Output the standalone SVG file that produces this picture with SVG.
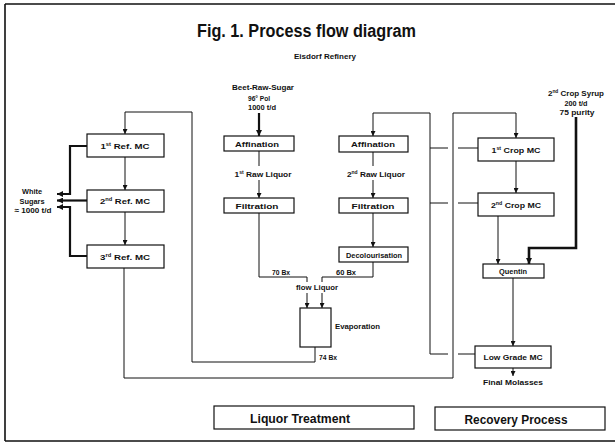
<svg xmlns="http://www.w3.org/2000/svg" width="615" height="445" viewBox="0 0 615 445">
<style>
.b{fill:#fff;stroke:#111;stroke-width:1.2}
.c{fill:none;stroke:#111;stroke-width:1}
.k{fill:none;stroke:#111;stroke-width:2.2}
.f{fill:none;stroke:#111;stroke-width:1.6}
text{font-family:"Liberation Sans",Arial,sans-serif;font-weight:bold;fill:#111}
.t{font-size:7.5px;text-anchor:middle}
.s{font-size:7.5px}
.h{font-size:18px;text-anchor:middle}
.L{font-size:13px;text-anchor:middle}
.sup{font-size:4.5px}
</style>
<defs>
<marker id="ah" viewBox="0 0 6 6" refX="6" refY="3" markerWidth="5" markerHeight="5" orient="auto" markerUnits="userSpaceOnUse"><path d="M0,0 L6,3 L0,6 z" fill="#111"/></marker>
<marker id="ahk" viewBox="0 0 6 6" refX="6" refY="3" markerWidth="7" markerHeight="6" orient="auto" markerUnits="userSpaceOnUse"><path d="M0,0 L6,3 L0,6 z" fill="#111"/></marker>
</defs>

<g id="frame">
<path class="f" d="M5,4 H615 M5,4 V441 M5,441 H615"/>
</g>

<g id="titles">
<text class="h" x="306.5" y="37" textLength="219" lengthAdjust="spacingAndGlyphs">Fig. 1. Process flow diagram</text>
<text class="t" x="325" y="59" textLength="62" lengthAdjust="spacingAndGlyphs">Eisdorf Refinery</text>
</g>

<g id="connectors">
<path class="k" d="M259,113 V136" marker-end="url(#ahk)"/>
<path class="c" d="M259,151 V166 M259,180 V198" marker-end="url(#ah)"/>
<path class="c" d="M259,213 V277 H307 V282"/>
<path class="c" d="M307,293 V308" marker-end="url(#ah)"/>
<path class="c" d="M373,152 V166 M373,180 V198" marker-end="url(#ah)"/>
<path class="c" d="M373,213 V247" marker-end="url(#ah)"/>
<path class="c" d="M373,262 V277 H322 V282"/>
<path class="c" d="M322,293 V308" marker-end="url(#ah)"/>
<path class="c" d="M315,347 V362 H192 V112 H125 V134" marker-end="url(#ah)"/>
<path class="c" d="M125,157 V190" marker-end="url(#ah)"/>
<path class="c" d="M125,212 V245" marker-end="url(#ah)"/>
<path class="c" d="M124,268 V378 H453 V113 H516 V138" marker-end="url(#ah)"/>
<path class="c" d="M430,354 V113 H373 V136" marker-end="url(#ah)"/>
<path class="c" d="M430,148 H448 M458,148 H478 M430,203 H448 M458,203 H478 M430,354 H448 M458,354 H475"/>
<path class="c" d="M516,161 V193" marker-end="url(#ah)"/>
<path class="c" d="M498,216 V264" marker-end="url(#ah)"/>
<path class="k" d="M576,117 V248 H529 V264" marker-end="url(#ahk)" style="stroke-width:2.6"/>
<path class="c" d="M513,278 V346" marker-end="url(#ah)"/>
<path class="c" d="M513,368 V376" marker-end="url(#ah)"/>
<path class="k" d="M87,146 H70 V194 H57" marker-end="url(#ahk)"/>
<path class="k" d="M87,200.5 H57" marker-end="url(#ahk)"/>
<path class="k" d="M87,256 H70 V207 H57" marker-end="url(#ahk)"/>
</g>

<g id="ref1"><rect class="b" x="87" y="134" width="77" height="23"/>
<text class="t" x="125" y="148.5" textLength="49" lengthAdjust="spacingAndGlyphs">1<tspan class="sup" dy="-3">st</tspan><tspan dy="3"> Ref. MC</tspan></text></g>
<g id="ref2"><rect class="b" x="87" y="190" width="77" height="22"/>
<text class="t" x="125" y="204" textLength="50" lengthAdjust="spacingAndGlyphs">2<tspan class="sup" dy="-3">nd</tspan><tspan dy="3"> Ref. MC</tspan></text></g>
<g id="ref3"><rect class="b" x="87" y="245" width="77" height="23"/>
<text class="t" x="125" y="259.5" textLength="50" lengthAdjust="spacingAndGlyphs">3<tspan class="sup" dy="-3">rd</tspan><tspan dy="3"> Ref. MC</tspan></text></g>

<g id="white-sugars">
<text class="t" x="32" y="194" textLength="20" lengthAdjust="spacingAndGlyphs">White</text>
<text class="t" x="32" y="204" textLength="25" lengthAdjust="spacingAndGlyphs">Sugars</text>
<text class="t" x="33" y="213" textLength="37" lengthAdjust="spacingAndGlyphs">≈ 1000 t/d</text>
</g>

<g id="beet-raw-sugar">
<text class="t" x="263" y="89.5" textLength="62" lengthAdjust="spacingAndGlyphs">Beet-Raw-Sugar</text>
<text class="t" x="259" y="100.5" textLength="22" lengthAdjust="spacingAndGlyphs">96° Pol</text>
<text class="t" x="262" y="110" textLength="28" lengthAdjust="spacingAndGlyphs">1000 t/d</text>
</g>

<g id="affination1"><rect class="b" x="224" y="136" width="70" height="15"/>
<text class="t" x="257" y="146.5" textLength="44" lengthAdjust="spacingAndGlyphs">Affination</text></g>
<text class="t" x="263" y="176.5" textLength="57" lengthAdjust="spacingAndGlyphs">1<tspan class="sup" dy="-3">st</tspan><tspan dy="3"> Raw Liquor</tspan></text>
<g id="filtration1"><rect class="b" x="224" y="198" width="70" height="15"/>
<text class="t" x="257" y="208.5" textLength="43" lengthAdjust="spacingAndGlyphs">Filtration</text></g>

<g id="affination2"><rect class="b" x="339" y="136" width="69" height="16"/>
<text class="t" x="373" y="147" textLength="44" lengthAdjust="spacingAndGlyphs">Affination</text></g>
<text class="t" x="376" y="176.5" textLength="58" lengthAdjust="spacingAndGlyphs">2<tspan class="sup" dy="-3">nd</tspan><tspan dy="3"> Raw Liquor</tspan></text>
<g id="filtration2"><rect class="b" x="339" y="198" width="69" height="15"/>
<text class="t" x="373" y="208.5" textLength="43" lengthAdjust="spacingAndGlyphs">Filtration</text></g>
<g id="decolourisation"><rect class="b" x="339" y="247" width="69" height="15"/>
<text class="t" x="374" y="257.5" textLength="56" lengthAdjust="spacingAndGlyphs">Decolourisation</text></g>

<g id="liquor-labels">
<text class="s" x="272" y="275" textLength="18" lengthAdjust="spacingAndGlyphs">70 Bx</text>
<text class="s" x="336" y="275" textLength="20" lengthAdjust="spacingAndGlyphs">60 Bx</text>
<text class="s" x="296" y="290" textLength="42" lengthAdjust="spacingAndGlyphs">flow Liquor</text>
</g>

<g id="evaporation"><rect class="b" x="300" y="308" width="31" height="39"/>
<text class="s" x="335" y="329" textLength="45" lengthAdjust="spacingAndGlyphs">Evaporation</text>
<text class="s" x="319" y="359.5" textLength="18" lengthAdjust="spacingAndGlyphs">74 Bx</text></g>

<g id="crop-syrup">
<text class="t" x="576" y="96" textLength="56" lengthAdjust="spacingAndGlyphs">2<tspan class="sup" dy="-3">nd</tspan><tspan dy="3"> Crop Syrup</tspan></text>
<text class="t" x="576" y="106" textLength="23" lengthAdjust="spacingAndGlyphs">200 t/d</text>
<text class="t" x="577" y="115" textLength="35" lengthAdjust="spacingAndGlyphs">75 purity</text>
</g>

<g id="crop1"><rect class="b" x="478" y="138" width="76" height="23"/>
<text class="t" x="516" y="152.5" textLength="49" lengthAdjust="spacingAndGlyphs">1<tspan class="sup" dy="-3">st</tspan><tspan dy="3"> Crop MC</tspan></text></g>
<g id="crop2"><rect class="b" x="478" y="193" width="76" height="23"/>
<text class="t" x="516" y="207.5" textLength="50" lengthAdjust="spacingAndGlyphs">2<tspan class="sup" dy="-3">nd</tspan><tspan dy="3"> Crop MC</tspan></text></g>
<g id="quentin"><rect class="b" x="483" y="264" width="61" height="14"/>
<text class="t" x="513" y="274" textLength="28" lengthAdjust="spacingAndGlyphs">Quentin</text></g>
<g id="lowgrade"><rect class="b" x="475" y="346" width="76" height="22"/>
<text class="t" x="513" y="360" textLength="59" lengthAdjust="spacingAndGlyphs">Low Grade MC</text></g>
<text class="t" x="513" y="385" textLength="60" lengthAdjust="spacingAndGlyphs">Final Molasses</text>

<g id="liquor-treatment"><rect class="b" x="214" y="406" width="200" height="23"/>
<text class="L" x="300" y="422.5" textLength="100" lengthAdjust="spacingAndGlyphs">Liquor Treatment</text></g>
<g id="recovery-process"><rect class="b" x="435" y="407" width="170" height="23"/>
<text class="L" x="516" y="423.5" textLength="103" lengthAdjust="spacingAndGlyphs">Recovery Process</text></g>
</svg>
